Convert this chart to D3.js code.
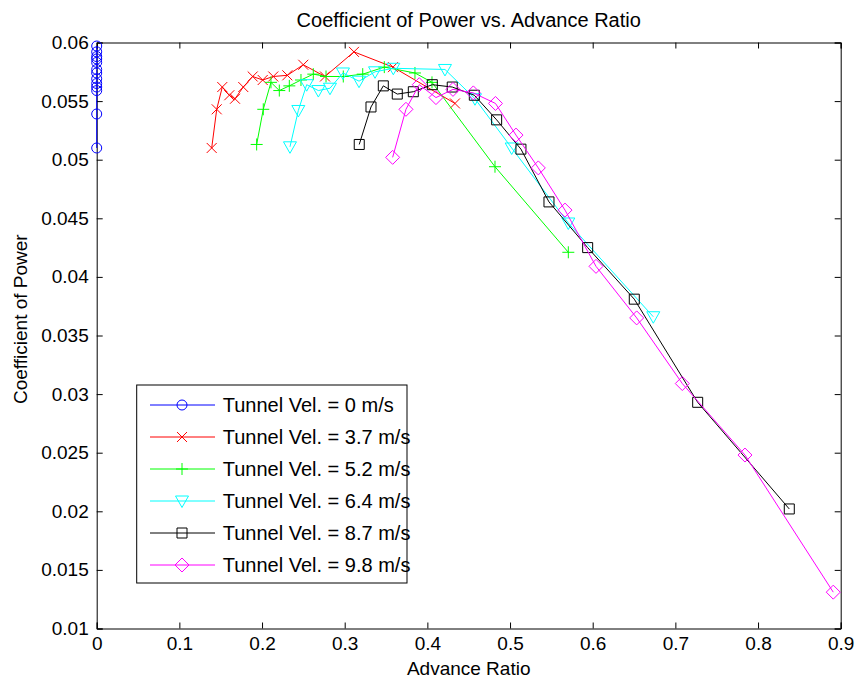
<!DOCTYPE html>
<html>
<head>
<meta charset="utf-8">
<script src="https://cdn.jsdelivr.net/npm/d3@7"></script>
<style>
  body { margin: 0; background: #fff; }
  text { font-family: "Liberation Sans", Arial, sans-serif; }
</style>
</head>
<body>
<div id="chart"></div>
<script>
// data
var xTicks = [0, 0.1, 0.2, 0.3, 0.4, 0.5, 0.6, 0.7, 0.8, 0.9];
var yTicks = [0.01, 0.015, 0.02, 0.025, 0.03, 0.035, 0.04, 0.045, 0.05, 0.055, 0.06];

var v0x = [0, 0, 0, 0, 0, 0, 0, 0, 0, 0, 0, 0, 0];
var v0y = [0.0510, 0.0539, 0.0559, 0.0562, 0.0565, 0.0569, 0.0574, 0.0577, 0.0583, 0.0586, 0.0588, 0.0592, 0.0597];

var v37x = [0.1391, 0.1452, 0.1519, 0.1604, 0.1673, 0.1773, 0.1887, 0.2008, 0.2136, 0.2306, 0.2499, 0.2762, 0.3112, 0.3584, 0.4334];
var v37y = [0.0510, 0.0543, 0.0562, 0.0555, 0.0552, 0.0562, 0.0571, 0.0568, 0.0571, 0.0572, 0.0581, 0.0571, 0.0592, 0.0579, 0.0548];

var v52x = [0.1935, 0.2015, 0.2108, 0.2209, 0.2330, 0.2471, 0.2620, 0.2774, 0.2983, 0.3218, 0.3479, 0.3850, 0.4056, 0.4818, 0.5705];
var v52y = [0.0513, 0.0543, 0.0566, 0.0559, 0.0563, 0.0568, 0.0573, 0.0571, 0.0571, 0.0573, 0.0579, 0.0574, 0.0566, 0.0494, 0.0421];

var v64x = [0.2338, 0.2439, 0.2540, 0.2681, 0.2822, 0.2979, 0.3173, 0.3367, 0.3588, 0.4213, 0.4576, 0.5020, 0.5705, 0.6733];
var v64y = [0.0511, 0.0542, 0.0564, 0.0559, 0.0561, 0.0574, 0.0567, 0.0575, 0.0578, 0.0577, 0.0552, 0.0510, 0.0446, 0.0366];

var v87x = [0.3176, 0.3318, 0.3467, 0.3636, 0.3830, 0.4060, 0.4301, 0.4568, 0.4838, 0.5132, 0.5471, 0.5939, 0.6503, 0.7270, 0.8378];
var v87y = [0.0513, 0.0545, 0.0563, 0.0556, 0.0558, 0.0564, 0.0562, 0.0555, 0.0534, 0.0509, 0.0464, 0.0425, 0.0381, 0.0293, 0.0202];

var v98x = [0.3580, 0.3741, 0.3902, 0.4104, 0.4310, 0.4556, 0.4824, 0.5072, 0.5342, 0.5665, 0.6040, 0.6532, 0.7084, 0.7842, 0.8910];
var v98y = [0.0502, 0.0543, 0.0564, 0.0553, 0.0560, 0.0557, 0.0548, 0.0521, 0.0493, 0.0457, 0.0409, 0.0365, 0.0309, 0.0248, 0.0131];

var labels = ["Tunnel Vel. = 0 m/s", "Tunnel Vel. = 3.7 m/s", "Tunnel Vel. = 5.2 m/s",
              "Tunnel Vel. = 6.4 m/s", "Tunnel Vel. = 8.7 m/s", "Tunnel Vel. = 9.8 m/s"];
var colors = ["#0000ff", "#ff0000", "#00ff00", "#00ffff", "#000000", "#ff00ff"];
var markers = ["circle", "x", "plus", "tri", "square", "diamond"];

var series = [[v0x, v0y], [v37x, v37y], [v52x, v52y], [v64x, v64y], [v87x, v87y], [v98x, v98y]]
  .map(function(s, i) {
    return {
      label: labels[i], color: colors[i], marker: markers[i],
      pts: s[0].map(function(x, j) { return [x, s[1][j]]; })
    };
  });

// set the dimensions and margins of the graph
var margin = {top: 42.5, right: 20.3, bottom: 55, left: 96.7},
    width = 861 - margin.left - margin.right,
    height = 684 - margin.top - margin.bottom - 0.5;

var svg = d3.select("#chart")
  .append("svg")
    .attr("width", 861)
    .attr("height", 684)
  .append("g")
    .attr("transform", "translate(" + margin.left + "," + margin.top + ")");

var x = d3.scaleLinear().domain([0, 0.9]).range([0, width]);
var y = d3.scaleLinear().domain([0.01, 0.06]).range([height, 0]);

// marker shapes, drawn as outlines like matlab does
function markerPath(type) {
  switch (type) {
    case "circle": return "M5,0A5,5 0 1,1 -5,0A5,5 0 1,1 5,0Z";
    case "x": return "M-5,-5L5,5M-5,5L5,-5";
    case "plus": return "M-6,0L6,0M0,-6L0,6";
    case "tri": return "M-6.5,-5L6.5,-5L0,6.5Z";
    case "square": return "M-5,-5L5,-5L5,5L-5,5Z";
    case "diamond": return "M0,-7L7,0L0,7L-7,0Z";
  }
}

// axes with ticks pointing inward on all four sides
var fmt = function(d) { return String(+d.toFixed(3)); };

svg.append("g")
  .attr("transform", "translate(0," + height + ")")
  .call(d3.axisBottom(x).tickValues(xTicks).tickSize(-6).tickPadding(8).tickFormat(fmt));
svg.append("g")
  .call(d3.axisTop(x).tickValues(xTicks).tickSize(-6).tickFormat(""));
svg.append("g")
  .call(d3.axisLeft(y).tickValues(yTicks).tickSize(-6).tickPadding(8).tickFormat(fmt));
svg.append("g")
  .attr("transform", "translate(" + width + ",0)")
  .call(d3.axisRight(y).tickValues(yTicks).tickSize(-6).tickFormat(""));

svg.selectAll(".domain").attr("stroke", "#000").attr("stroke-width", 1);
svg.selectAll(".tick line").attr("stroke", "#000");
svg.selectAll(".tick text")
  .attr("font-size", "19px")
  .attr("font-family", "'Liberation Sans', Arial, sans-serif")
  .attr("fill", "#000");

// lines + markers
var line = d3.line()
  .x(function(d) { return x(d[0]); })
  .y(function(d) { return y(d[1]); });

series.forEach(function(s) {
  var g = svg.append("g");
  g.append("path")
    .attr("d", line(s.pts))
    .attr("fill", "none")
    .attr("stroke", s.color)
    .attr("stroke-width", 1);
  g.selectAll("path.mk")
    .data(s.pts)
    .enter().append("path")
      .attr("class", "mk")
      .attr("d", markerPath(s.marker))
      .attr("transform", function(d) { return "translate(" + x(d[0]) + "," + y(d[1]) + ")"; })
      .attr("fill", "none")
      .attr("stroke", s.color)
      .attr("stroke-width", 1);
});

// title and axis labels
svg.append("text")
  .attr("x", width / 2)
  .attr("y", -15.5)
  .attr("text-anchor", "middle")
  .attr("font-size", "20px")
  .text("Coefficient of Power vs. Advance Ratio");

svg.append("text")
  .attr("x", width / 2)
  .attr("y", height + 46)
  .attr("text-anchor", "middle")
  .attr("font-size", "19px")
  .text("Advance Ratio");

svg.append("text")
  .attr("transform", "translate(" + (27 - margin.left) + "," + (404 - margin.top) + ") rotate(-90)")
  .attr("text-anchor", "start")
  .attr("font-size", "19px")
  .text("Coefficient of Power");

// legend
var lg = svg.append("g")
  .attr("transform", "translate(" + (136.7 - margin.left) + "," + (385 - margin.top) + ")");

lg.append("rect")
  .attr("width", 270.3)
  .attr("height", 198)
  .attr("fill", "#fff")
  .attr("stroke", "#000")
  .attr("stroke-width", 1);

var legspacing = 32;
var item = lg.selectAll("g.item")
  .data(series)
  .enter().append("g")
    .attr("transform", function(d, i) { return "translate(0," + (20 + i * legspacing) + ")"; });

item.append("line")
  .attr("x1", 13.3).attr("x2", 78.3)
  .attr("stroke", function(d) { return d.color; })
  .attr("stroke-width", 1);
item.append("path")
  .attr("d", function(d) { return markerPath(d.marker); })
  .attr("transform", "translate(45.3,0)")
  .attr("fill", "none")
  .attr("stroke", function(d) { return d.color; });
item.append("text")
  .attr("x", 86)
  .attr("y", 7)
  .attr("font-size", "20px")
  .text(function(d) { return d.label; });
</script>
</body>
</html>
